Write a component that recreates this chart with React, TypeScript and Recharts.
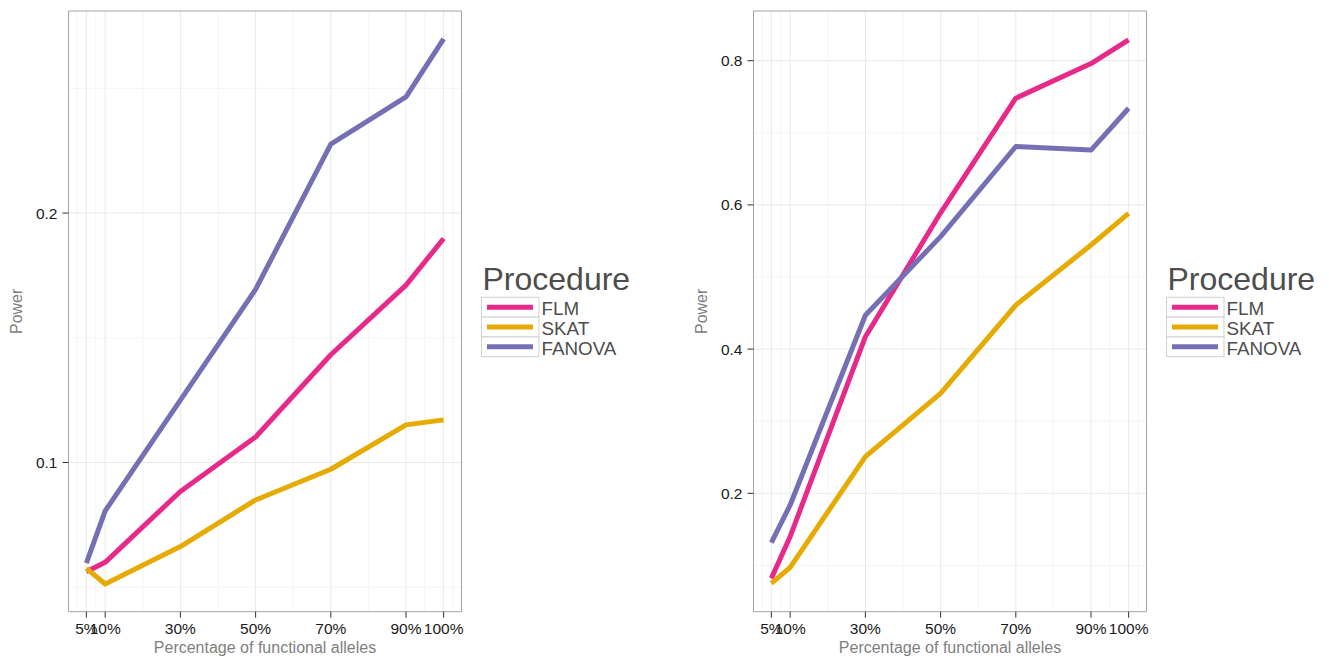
import { CartesianGrid, Line, LineChart, ReferenceArea, XAxis, YAxis } from "recharts";

// percentage of functional alleles on the x axis
const pct = [5, 10, 30, 50, 70, 90, 100];
const pctTicks = [5, 10, 30, 50, 70, 90, 100];
const pctMinor = [2.5, 7.5, 20, 40, 60, 80, 95, 102.5];

// power per procedure, first panel
const flmA = [0.0562, 0.060, 0.0884, 0.1102, 0.1432, 0.1711, 0.1898];
const skatA = [0.0576, 0.0513, 0.0663, 0.085, 0.0973, 0.1151, 0.1171];
const fanovaA = [0.0597, 0.0806, 0.125, 0.1694, 0.2276, 0.2466, 0.2698];
const ticksA = [0.1, 0.2];
const minorA = [0.05, 0.15, 0.25];

// power per procedure, second panel
const flmB = [0.082, 0.14, 0.4172, 0.589, 0.748, 0.796, 0.829];
const skatB = [0.075, 0.0974, 0.2508, 0.3387, 0.461, 0.5444, 0.5883];
const fanovaB = [0.1315, 0.1838, 0.447, 0.556, 0.681, 0.676, 0.734];
const ticksB = [0.2, 0.4, 0.6, 0.8];
const minorB = [0.1, 0.3, 0.5, 0.7];

const procedures = ["FLM", "SKAT", "FANOVA"];
const COLORS: Record<string, string> = {
  FLM: "#e7298a",
  SKAT: "#e6ab02",
  FANOVA: "#7570b3",
};

const FONT = '"Liberation Sans", Arial, Helvetica, sans-serif';
const X_DOMAIN: [number, number] = [0.25, 104.75];
const Y_AXIS_W = 68.5;
const PLOT_W = 393;
const CHART_W = Y_AXIS_W + PLOT_W + 5;
const CHART_H = 656;
const TOP = 11;
const X_AXIS_H = 44.3;

interface PanelProps {
  left: number;
  flm: number[];
  skat: number[];
  fanova: number[];
  yDomain: [number, number];
  yTicks: number[];
  yMinor: number[];
}

function Panel({ left, flm, skat, fanova, yDomain, yTicks, yMinor }: PanelProps) {
  const rows = pct.map((p, i) => ({ pct: p, FLM: flm[i], SKAT: skat[i], FANOVA: fanova[i] }));
  const plotCx = Y_AXIS_W + PLOT_W / 2;
  const plotCy = TOP + (CHART_H - TOP - X_AXIS_H) / 2;
  const tick = { fill: "#1a1a1a", fontSize: 15.5, fontFamily: FONT };

  return (
    <div style={{ position: "absolute", left, top: 0 }}>
      <LineChart
        width={CHART_W}
        height={CHART_H}
        data={rows}
        margin={{ top: TOP, right: 5, bottom: 0, left: 0 }}
      >
        <CartesianGrid
          stroke="#f4f4f4"
          horizontalValues={yMinor}
          verticalValues={pctMinor}
        />
        <CartesianGrid
          stroke="#e9e9e9"
          horizontalValues={yTicks}
          verticalValues={pctTicks}
        />
        <XAxis
          dataKey="pct"
          type="number"
          domain={X_DOMAIN}
          ticks={pctTicks}
          interval={0}
          tickFormatter={(v) => `${v}%`}
          height={X_AXIS_H}
          axisLine={false}
          tickLine={{ stroke: "#333" }}
          tickSize={6}
          tickMargin={5}
          tick={tick}
        />
        <YAxis
          type="number"
          domain={yDomain}
          ticks={yTicks}
          interval={0}
          allowDataOverflow
          width={Y_AXIS_W}
          axisLine={false}
          tickLine={{ stroke: "#333" }}
          tickSize={6}
          tickMargin={5}
          tick={tick}
        />
        {procedures.map((name) => (
          <Line
            key={name}
            type="linear"
            dataKey={name}
            stroke={COLORS[name]}
            strokeWidth={5}
            strokeLinejoin="round"
            dot={false}
            activeDot={false}
            isAnimationActive={false}
          />
        ))}
        <ReferenceArea
          x1={X_DOMAIN[0]}
          x2={X_DOMAIN[1]}
          y1={yDomain[0]}
          y2={yDomain[1]}
          fill="none"
          stroke="#a3a3a3"
          strokeWidth={1}
          ifOverflow="visible"
        />
        <text
          x={22}
          y={plotCy}
          transform={`rotate(-90, 22, ${plotCy})`}
          textAnchor="middle"
          fill="#808080"
          fontSize={16}
          fontFamily={FONT}
        >
          Power
        </text>
        <text
          x={plotCx}
          y={653}
          textAnchor="middle"
          fill="#808080"
          fontSize={16}
          fontFamily={FONT}
        >
          Percentage of functional alleles
        </text>
      </LineChart>
    </div>
  );
}

function ProcedureLegend({ left }: { left: number }) {
  const rowH = 19.8;
  return (
    <svg
      style={{ position: "absolute", left, top: 250 }}
      width={170}
      height={120}
      fontFamily={FONT}
    >
      <text x={1.5} y={40} fontSize={32} fill="#4d4d4d">
        Procedure
      </text>
      {procedures.map((name, i) => {
        const y = 47.3 + i * rowH;
        return (
          <g key={name}>
            <rect x={0.5} y={y} width={57.5} height={rowH} fill="#fff" stroke="#d0d0d0" />
            <line
              x1={6}
              x2={52}
              y1={y + rowH / 2}
              y2={y + rowH / 2}
              stroke={COLORS[name]}
              strokeWidth={5}
            />
            <text x={60.5} y={y + 17.7} fontSize={18.8} fill="#4d4d4d">
              {name}
            </text>
          </g>
        );
      })}
    </svg>
  );
}

export default function App() {
  const rightLeft = 685;
  return (
    <div
      style={{
        position: "absolute",
        left: 0,
        top: 0,
        width: 1329,
        height: 656,
        background: "#fff",
        overflow: "hidden",
      }}
    >
      <Panel
        left={0}
        flm={flmA}
        skat={skatA}
        fanova={fanovaA}
        yDomain={[0.0402, 0.281]}
        yTicks={ticksA}
        yMinor={minorA}
      />
      <ProcedureLegend left={Y_AXIS_W + PLOT_W + 19} />
      <Panel
        left={rightLeft}
        flm={flmB}
        skat={skatB}
        fanova={fanovaB}
        yDomain={[0.0358, 0.8689]}
        yTicks={ticksB}
        yMinor={minorB}
      />
      <ProcedureLegend left={rightLeft + Y_AXIS_W + PLOT_W + 19} />
    </div>
  );
}
